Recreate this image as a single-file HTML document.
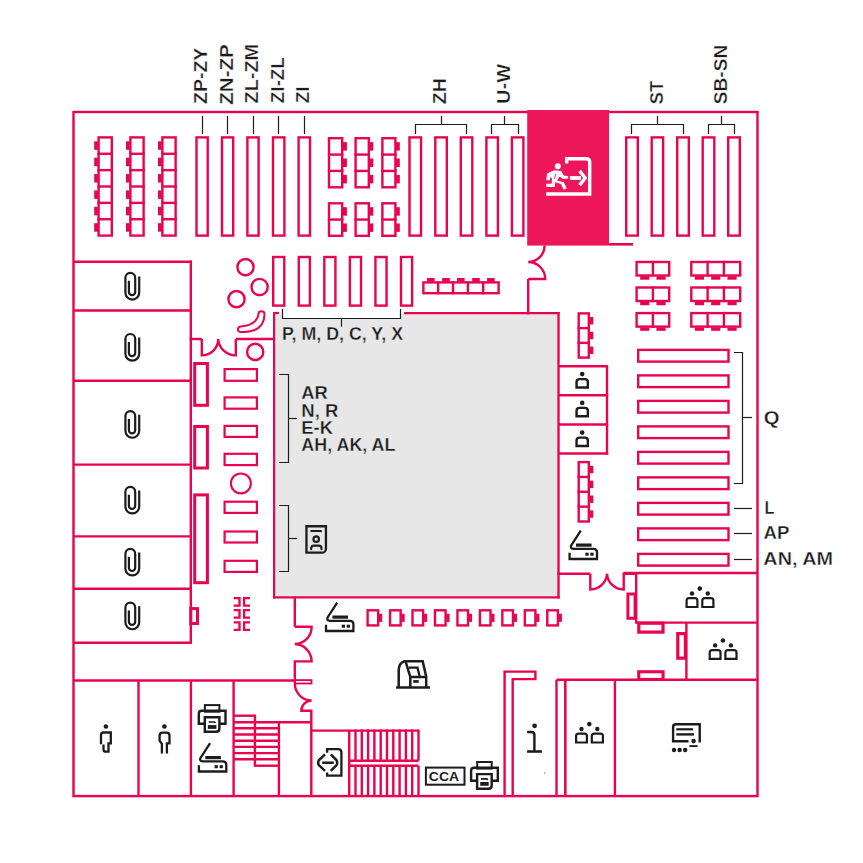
<!DOCTYPE html>
<html><head><meta charset="utf-8"><style>
html,body{margin:0;padding:0;background:#fff;}
svg{display:block;}
text{font-family:"Liberation Sans",sans-serif;font-weight:bold;}
</style></head><body>
<svg width="863" height="863" viewBox="0 0 863 863">
<rect x="275" y="314" width="282.5" height="282" fill="#e7e7e7"/>
<rect x="73.5" y="112" width="684" height="684.1" stroke="#e8034f" stroke-width="2.4" fill="none"/>
<rect x="527.2" y="110" width="81.8" height="135.6" fill="#ee165b"/>
<line x1="609" y1="244.3" x2="633" y2="244.3" stroke="#e8034f" stroke-width="2.6"/>
<rect x="98.6" y="137.4" width="13.2" height="98.2" stroke="#e8034f" stroke-width="2.4" fill="none"/>
<line x1="97.4" y1="153.77" x2="113" y2="153.77" stroke="#e8034f" stroke-width="2.4"/>
<line x1="97.4" y1="170.13" x2="113" y2="170.13" stroke="#e8034f" stroke-width="2.4"/>
<line x1="97.4" y1="186.5" x2="113" y2="186.5" stroke="#e8034f" stroke-width="2.4"/>
<line x1="97.4" y1="202.87" x2="113" y2="202.87" stroke="#e8034f" stroke-width="2.4"/>
<line x1="97.4" y1="219.23" x2="113" y2="219.23" stroke="#e8034f" stroke-width="2.4"/>
<rect x="94.2" y="141.33" width="3.7" height="8.5" fill="#e8034f"/>
<rect x="94.2" y="157.7" width="3.7" height="8.5" fill="#e8034f"/>
<rect x="94.2" y="174.07" width="3.7" height="8.5" fill="#e8034f"/>
<rect x="94.2" y="190.43" width="3.7" height="8.5" fill="#e8034f"/>
<rect x="94.2" y="206.8" width="3.7" height="8.5" fill="#e8034f"/>
<rect x="94.2" y="223.17" width="3.7" height="8.5" fill="#e8034f"/>
<rect x="130.4" y="137.4" width="13.2" height="98.2" stroke="#e8034f" stroke-width="2.4" fill="none"/>
<line x1="129.2" y1="153.77" x2="144.8" y2="153.77" stroke="#e8034f" stroke-width="2.4"/>
<line x1="129.2" y1="170.13" x2="144.8" y2="170.13" stroke="#e8034f" stroke-width="2.4"/>
<line x1="129.2" y1="186.5" x2="144.8" y2="186.5" stroke="#e8034f" stroke-width="2.4"/>
<line x1="129.2" y1="202.87" x2="144.8" y2="202.87" stroke="#e8034f" stroke-width="2.4"/>
<line x1="129.2" y1="219.23" x2="144.8" y2="219.23" stroke="#e8034f" stroke-width="2.4"/>
<rect x="126" y="141.33" width="3.7" height="8.5" fill="#e8034f"/>
<rect x="126" y="157.7" width="3.7" height="8.5" fill="#e8034f"/>
<rect x="126" y="174.07" width="3.7" height="8.5" fill="#e8034f"/>
<rect x="126" y="190.43" width="3.7" height="8.5" fill="#e8034f"/>
<rect x="126" y="206.8" width="3.7" height="8.5" fill="#e8034f"/>
<rect x="126" y="223.17" width="3.7" height="8.5" fill="#e8034f"/>
<rect x="162.4" y="137.4" width="13.2" height="98.2" stroke="#e8034f" stroke-width="2.4" fill="none"/>
<line x1="161.2" y1="153.77" x2="176.8" y2="153.77" stroke="#e8034f" stroke-width="2.4"/>
<line x1="161.2" y1="170.13" x2="176.8" y2="170.13" stroke="#e8034f" stroke-width="2.4"/>
<line x1="161.2" y1="186.5" x2="176.8" y2="186.5" stroke="#e8034f" stroke-width="2.4"/>
<line x1="161.2" y1="202.87" x2="176.8" y2="202.87" stroke="#e8034f" stroke-width="2.4"/>
<line x1="161.2" y1="219.23" x2="176.8" y2="219.23" stroke="#e8034f" stroke-width="2.4"/>
<rect x="158" y="141.33" width="3.7" height="8.5" fill="#e8034f"/>
<rect x="158" y="157.7" width="3.7" height="8.5" fill="#e8034f"/>
<rect x="158" y="174.07" width="3.7" height="8.5" fill="#e8034f"/>
<rect x="158" y="190.43" width="3.7" height="8.5" fill="#e8034f"/>
<rect x="158" y="206.8" width="3.7" height="8.5" fill="#e8034f"/>
<rect x="158" y="223.17" width="3.7" height="8.5" fill="#e8034f"/>
<rect x="196.5" y="137.4" width="11.2" height="98.2" stroke="#e8034f" stroke-width="2.4" fill="none"/>
<rect x="222" y="137.4" width="11.2" height="98.2" stroke="#e8034f" stroke-width="2.4" fill="none"/>
<rect x="247.4" y="137.4" width="11.2" height="98.2" stroke="#e8034f" stroke-width="2.4" fill="none"/>
<rect x="273" y="137.4" width="11.4" height="98.2" stroke="#e8034f" stroke-width="2.4" fill="none"/>
<rect x="298.6" y="137.4" width="11.4" height="98.2" stroke="#e8034f" stroke-width="2.4" fill="none"/>
<rect x="409.5" y="137.4" width="11.5" height="98.2" stroke="#e8034f" stroke-width="2.4" fill="none"/>
<rect x="435.3" y="137.4" width="11.5" height="98.2" stroke="#e8034f" stroke-width="2.4" fill="none"/>
<rect x="460.8" y="137.4" width="11.5" height="98.2" stroke="#e8034f" stroke-width="2.4" fill="none"/>
<rect x="486.4" y="137.4" width="11.5" height="98.2" stroke="#e8034f" stroke-width="2.4" fill="none"/>
<rect x="511.9" y="137.4" width="11.5" height="98.2" stroke="#e8034f" stroke-width="2.4" fill="none"/>
<rect x="626.2" y="137.4" width="11.6" height="98.2" stroke="#e8034f" stroke-width="2.4" fill="none"/>
<rect x="651.7" y="137.4" width="11.4" height="98.2" stroke="#e8034f" stroke-width="2.4" fill="none"/>
<rect x="677.2" y="137.4" width="11.6" height="98.2" stroke="#e8034f" stroke-width="2.4" fill="none"/>
<rect x="702.7" y="137.4" width="11.6" height="98.2" stroke="#e8034f" stroke-width="2.4" fill="none"/>
<rect x="728.2" y="137.4" width="11.6" height="98.2" stroke="#e8034f" stroke-width="2.4" fill="none"/>
<rect x="329" y="138.2" width="13.2" height="49.1" stroke="#e8034f" stroke-width="2.4" fill="none"/>
<line x1="327.8" y1="154.57" x2="343.4" y2="154.57" stroke="#e8034f" stroke-width="2.4"/>
<line x1="327.8" y1="170.93" x2="343.4" y2="170.93" stroke="#e8034f" stroke-width="2.4"/>
<rect x="342.9" y="142.13" width="4" height="8.5" fill="#e8034f"/>
<rect x="342.9" y="158.5" width="4" height="8.5" fill="#e8034f"/>
<rect x="342.9" y="174.87" width="4" height="8.5" fill="#e8034f"/>
<rect x="329" y="203.3" width="13.2" height="32.5" stroke="#e8034f" stroke-width="2.4" fill="none"/>
<line x1="327.8" y1="219.55" x2="343.4" y2="219.55" stroke="#e8034f" stroke-width="2.4"/>
<rect x="342.9" y="207.17" width="4" height="8.5" fill="#e8034f"/>
<rect x="342.9" y="223.42" width="4" height="8.5" fill="#e8034f"/>
<rect x="355.6" y="138.2" width="13.2" height="49.1" stroke="#e8034f" stroke-width="2.4" fill="none"/>
<line x1="354.4" y1="154.57" x2="370" y2="154.57" stroke="#e8034f" stroke-width="2.4"/>
<line x1="354.4" y1="170.93" x2="370" y2="170.93" stroke="#e8034f" stroke-width="2.4"/>
<rect x="369.5" y="142.13" width="3.8" height="8.5" fill="#e8034f"/>
<rect x="369.5" y="158.5" width="3.8" height="8.5" fill="#e8034f"/>
<rect x="369.5" y="174.87" width="3.8" height="8.5" fill="#e8034f"/>
<rect x="355.6" y="203.3" width="13.2" height="32.5" stroke="#e8034f" stroke-width="2.4" fill="none"/>
<line x1="354.4" y1="219.55" x2="370" y2="219.55" stroke="#e8034f" stroke-width="2.4"/>
<rect x="369.5" y="207.17" width="3.8" height="8.5" fill="#e8034f"/>
<rect x="369.5" y="223.42" width="3.8" height="8.5" fill="#e8034f"/>
<rect x="382.4" y="138.2" width="13" height="49.1" stroke="#e8034f" stroke-width="2.4" fill="none"/>
<line x1="381.2" y1="154.57" x2="396.6" y2="154.57" stroke="#e8034f" stroke-width="2.4"/>
<line x1="381.2" y1="170.93" x2="396.6" y2="170.93" stroke="#e8034f" stroke-width="2.4"/>
<rect x="396.1" y="142.13" width="3.7" height="8.5" fill="#e8034f"/>
<rect x="396.1" y="158.5" width="3.7" height="8.5" fill="#e8034f"/>
<rect x="396.1" y="174.87" width="3.7" height="8.5" fill="#e8034f"/>
<rect x="382.4" y="203.3" width="13" height="32.5" stroke="#e8034f" stroke-width="2.4" fill="none"/>
<line x1="381.2" y1="219.55" x2="396.6" y2="219.55" stroke="#e8034f" stroke-width="2.4"/>
<rect x="396.1" y="207.17" width="3.7" height="8.5" fill="#e8034f"/>
<rect x="396.1" y="223.42" width="3.7" height="8.5" fill="#e8034f"/>
<line x1="202.5" y1="116" x2="202.5" y2="134" stroke="#1c1c1c" stroke-width="1.2"/>
<line x1="227.5" y1="116" x2="227.5" y2="134" stroke="#1c1c1c" stroke-width="1.2"/>
<line x1="253.5" y1="116" x2="253.5" y2="134" stroke="#1c1c1c" stroke-width="1.2"/>
<line x1="278.5" y1="116" x2="278.5" y2="134" stroke="#1c1c1c" stroke-width="1.2"/>
<line x1="304.5" y1="116" x2="304.5" y2="134" stroke="#1c1c1c" stroke-width="1.2"/>
<path d="M415.5 134 L415.5 124.5 L466.5 124.5 L466.5 134" stroke="#1c1c1c" stroke-width="1.2" fill="none" />
<line x1="441.5" y1="116" x2="441.5" y2="124.5" stroke="#1c1c1c" stroke-width="1.2"/>
<path d="M491.5 134 L491.5 124.5 L518.5 124.5 L518.5 134" stroke="#1c1c1c" stroke-width="1.2" fill="none" />
<line x1="504.5" y1="116" x2="504.5" y2="124.5" stroke="#1c1c1c" stroke-width="1.2"/>
<path d="M631.5 134 L631.5 124.5 L683.5 124.5 L683.5 134" stroke="#1c1c1c" stroke-width="1.2" fill="none" />
<line x1="657.5" y1="116" x2="657.5" y2="124.5" stroke="#1c1c1c" stroke-width="1.2"/>
<path d="M708.5 134 L708.5 124.5 L734.5 124.5 L734.5 134" stroke="#1c1c1c" stroke-width="1.2" fill="none" />
<line x1="721.5" y1="116" x2="721.5" y2="124.5" stroke="#1c1c1c" stroke-width="1.2"/>
<line x1="190.8" y1="260.6" x2="190.8" y2="643.8" stroke="#e8034f" stroke-width="2.4"/>
<line x1="73" y1="261.7" x2="191.9" y2="261.7" stroke="#e8034f" stroke-width="2.4"/>
<line x1="73" y1="310.5" x2="191.9" y2="310.5" stroke="#e8034f" stroke-width="2.4"/>
<line x1="73" y1="380.7" x2="191.9" y2="380.7" stroke="#e8034f" stroke-width="2.4"/>
<line x1="73" y1="464.6" x2="191.9" y2="464.6" stroke="#e8034f" stroke-width="2.4"/>
<line x1="73" y1="536.4" x2="191.9" y2="536.4" stroke="#e8034f" stroke-width="2.4"/>
<line x1="73" y1="588.7" x2="191.9" y2="588.7" stroke="#e8034f" stroke-width="2.4"/>
<line x1="73" y1="642.7" x2="191.9" y2="642.7" stroke="#e8034f" stroke-width="2.4"/>
<line x1="189.7" y1="339" x2="201.8" y2="339" stroke="#e8034f" stroke-width="2.4"/>
<line x1="235.8" y1="339" x2="273.4" y2="339" stroke="#e8034f" stroke-width="2.4"/>
<path d="M201.8 339 L201.8 355.4 A16.4 16.4 0 0 0 218.2 339 M235.8 339 L235.8 355.4 A17.6 17.6 0 0 1 218.2 339" stroke="#e8034f" stroke-width="2.4" fill="none" />
<circle cx="245.5" cy="267.1" r="8.1" stroke="#e8034f" stroke-width="2.4" fill="none"/>
<circle cx="259.6" cy="287" r="8.1" stroke="#e8034f" stroke-width="2.4" fill="none"/>
<circle cx="236.5" cy="299.1" r="8.1" stroke="#e8034f" stroke-width="2.4" fill="none"/>
<circle cx="255.2" cy="351.9" r="8.1" stroke="#e8034f" stroke-width="2.4" fill="none"/>
<circle cx="240.9" cy="483.4" r="9.95" stroke="#e8034f" stroke-width="2.1" fill="none"/>
<path d="M240.6 326.6 C245.5 326.1 252 324.5 255.3 320.8 C257.6 318.1 258.4 315.8 258.4 314.2 A3.05 3.05 0 0 1 264.5 314.2 C264.5 321.5 261.5 327.3 254 330.3 C250 331.7 245 332.1 240.7 332.1 A2.75 2.75 0 0 1 240.6 326.6 Z" stroke="#e8034f" stroke-width="2.0" fill="none" />
<rect x="194.7" y="363.5" width="12.7" height="41.8" stroke="#e8034f" stroke-width="3.0" fill="none"/>
<rect x="194.7" y="426.5" width="12.7" height="41.5" stroke="#e8034f" stroke-width="3.0" fill="none"/>
<rect x="194.7" y="494.9" width="12.7" height="87.8" stroke="#e8034f" stroke-width="3.0" fill="none"/>
<rect x="224.6" y="369.1" width="32.3" height="11.7" stroke="#e8034f" stroke-width="2.2" fill="none"/>
<rect x="224.6" y="397.4" width="32.3" height="11.3" stroke="#e8034f" stroke-width="2.2" fill="none"/>
<rect x="224.6" y="425.9" width="32.3" height="11" stroke="#e8034f" stroke-width="2.2" fill="none"/>
<rect x="224.6" y="453.8" width="32.3" height="11.3" stroke="#e8034f" stroke-width="2.2" fill="none"/>
<rect x="224.6" y="501.7" width="32.3" height="11.2" stroke="#e8034f" stroke-width="2.2" fill="none"/>
<rect x="224.6" y="531.5" width="32.3" height="11" stroke="#e8034f" stroke-width="2.2" fill="none"/>
<rect x="224.6" y="560.8" width="32.3" height="11.1" stroke="#e8034f" stroke-width="2.2" fill="none"/>
<rect x="190.8" y="608.6" width="6.7" height="14.9" stroke="#e8034f" stroke-width="3.0" fill="none"/>
<path d="M233.7 598.1 L239.5 598.1 L239.5 605.6 L233.7 605.6" stroke="#e8034f" stroke-width="2.3" fill="none" />
<path d="M250 598.1 L244.1 598.1 L244.1 605.6 L250 605.6" stroke="#e8034f" stroke-width="2.3" fill="none" />
<path d="M233.7 610.2 L239.5 610.2 L239.5 617.7 L233.7 617.7" stroke="#e8034f" stroke-width="2.3" fill="none" />
<path d="M250 610.2 L244.1 610.2 L244.1 617.7 L250 617.7" stroke="#e8034f" stroke-width="2.3" fill="none" />
<path d="M233.7 622.3 L239.5 622.3 L239.5 629.8 L233.7 629.8" stroke="#e8034f" stroke-width="2.3" fill="none" />
<path d="M250 622.3 L244.1 622.3 L244.1 629.8 L250 629.8" stroke="#e8034f" stroke-width="2.3" fill="none" />
<line x1="274.1" y1="312" x2="274.1" y2="598.6" stroke="#e8034f" stroke-width="2.2"/>
<line x1="558.5" y1="312" x2="558.5" y2="598.6" stroke="#e8034f" stroke-width="2.4"/>
<line x1="273" y1="597.4" x2="559.7" y2="597.4" stroke="#e8034f" stroke-width="2.4"/>
<line x1="273" y1="313" x2="279" y2="313" stroke="#e8034f" stroke-width="2.2"/>
<line x1="404" y1="313.2" x2="559.7" y2="313.2" stroke="#e8034f" stroke-width="2.2"/>
<rect x="281.8" y="308.5" width="119.5" height="9.7" fill="#fff"/>
<path d="M282.5 309 L282.5 318.5 L400.5 318.5 L400.5 309" stroke="#1c1c1c" stroke-width="1.2" fill="none" />
<line x1="341.5" y1="318.5" x2="341.5" y2="326.6" stroke="#1c1c1c" stroke-width="1.2"/>
<rect x="273.2" y="257" width="11.1" height="48.6" stroke="#e8034f" stroke-width="2.4" fill="none"/>
<rect x="298.76" y="257" width="11.1" height="48.6" stroke="#e8034f" stroke-width="2.4" fill="none"/>
<rect x="324.32" y="257" width="11.1" height="48.6" stroke="#e8034f" stroke-width="2.4" fill="none"/>
<rect x="349.88" y="257" width="11.1" height="48.6" stroke="#e8034f" stroke-width="2.4" fill="none"/>
<rect x="375.44" y="257" width="11.1" height="48.6" stroke="#e8034f" stroke-width="2.4" fill="none"/>
<rect x="401" y="257" width="11.1" height="48.6" stroke="#e8034f" stroke-width="2.4" fill="none"/>
<path d="M279 374.5 L288.5 374.5 L288.5 462.5 L279 462.5" stroke="#1c1c1c" stroke-width="1.2" fill="none" />
<line x1="288.5" y1="418.5" x2="297" y2="418.5" stroke="#1c1c1c" stroke-width="1.2"/>
<path d="M279 505.5 L288.5 505.5 L288.5 571.5 L279 571.5" stroke="#1c1c1c" stroke-width="1.2" fill="none" />
<line x1="288.5" y1="538.5" x2="297.2" y2="538.5" stroke="#1c1c1c" stroke-width="1.2"/>
<path d="M306.45 526.25 H325.95 V548.65 A4 4 0 0 1 321.95 552.65 H306.45 Z" stroke="#1c1c1c" stroke-width="2.3" fill="none" />
<path d="M310.4 531 H320.6 L321.8 531.6" stroke="#1c1c1c" stroke-width="1.9" fill="none" />
<circle cx="316.2" cy="539.2" r="2.75" stroke="#1c1c1c" stroke-width="2.2" fill="none"/>
<path d="M311.2 549.3 V548.3 Q311.2 545.6 313.9 545.6 H318.8 Q321.5 545.6 321.5 548.3 V549.3" stroke="#1c1c1c" stroke-width="2.1" fill="none" stroke-linecap="round"/>
<rect x="423.4" y="282.4" width="75.2" height="10.8" stroke="#e8034f" stroke-width="2.4" fill="none"/>
<line x1="438.1" y1="281.2" x2="438.1" y2="294.4" stroke="#e8034f" stroke-width="2.4"/>
<line x1="453" y1="281.2" x2="453" y2="294.4" stroke="#e8034f" stroke-width="2.4"/>
<line x1="467.9" y1="281.2" x2="467.9" y2="294.4" stroke="#e8034f" stroke-width="2.4"/>
<line x1="483.2" y1="281.2" x2="483.2" y2="294.4" stroke="#e8034f" stroke-width="2.4"/>
<rect x="427" y="278" width="7.6" height="3.8" fill="#e8034f"/>
<rect x="442.2" y="278" width="7.6" height="3.8" fill="#e8034f"/>
<rect x="457" y="278" width="7.6" height="3.8" fill="#e8034f"/>
<rect x="472.2" y="278" width="7.6" height="3.8" fill="#e8034f"/>
<rect x="487.1" y="278" width="7.6" height="3.8" fill="#e8034f"/>
<line x1="528.2" y1="279" x2="528.2" y2="314.3" stroke="#e8034f" stroke-width="2.4"/>
<path d="M544.6 245.5 A16.5 16.5 0 0 1 528.2 262 A17 17 0 0 1 545.2 279 H528.2" stroke="#e8034f" stroke-width="2.4" fill="none" />
<rect x="578.7" y="313.4" width="10.1" height="44.2" stroke="#e8034f" stroke-width="2.4" fill="none"/>
<line x1="577.5" y1="328.13" x2="590" y2="328.13" stroke="#e8034f" stroke-width="2.4"/>
<line x1="577.5" y1="342.87" x2="590" y2="342.87" stroke="#e8034f" stroke-width="2.4"/>
<rect x="589.5" y="317.07" width="3.8" height="7.4" fill="#e8034f"/>
<rect x="589.5" y="331.8" width="3.8" height="7.4" fill="#e8034f"/>
<rect x="589.5" y="346.53" width="3.8" height="7.4" fill="#e8034f"/>
<rect x="578.7" y="462.1" width="10.1" height="59.4" stroke="#e8034f" stroke-width="2.4" fill="none"/>
<line x1="577.5" y1="476.95" x2="590" y2="476.95" stroke="#e8034f" stroke-width="2.4"/>
<line x1="577.5" y1="491.8" x2="590" y2="491.8" stroke="#e8034f" stroke-width="2.4"/>
<line x1="577.5" y1="506.65" x2="590" y2="506.65" stroke="#e8034f" stroke-width="2.4"/>
<rect x="589.5" y="465.82" width="3.8" height="7.4" fill="#e8034f"/>
<rect x="589.5" y="480.68" width="3.8" height="7.4" fill="#e8034f"/>
<rect x="589.5" y="495.53" width="3.8" height="7.4" fill="#e8034f"/>
<rect x="589.5" y="510.38" width="3.8" height="7.4" fill="#e8034f"/>
<line x1="558.5" y1="366.2" x2="607" y2="366.2" stroke="#e8034f" stroke-width="2.4"/>
<line x1="558.5" y1="395.2" x2="608.2" y2="395.2" stroke="#e8034f" stroke-width="2.4"/>
<line x1="558.5" y1="424.5" x2="608.2" y2="424.5" stroke="#e8034f" stroke-width="2.4"/>
<line x1="558.5" y1="453.5" x2="608.2" y2="453.5" stroke="#e8034f" stroke-width="2.4"/>
<line x1="607" y1="365.1" x2="607" y2="454.7" stroke="#e8034f" stroke-width="2.4"/>
<circle cx="582.2" cy="374.1" r="2.3" fill="#1c1c1c"/>
<path d="M576.55 387.5 V382.1 Q576.55 379.1 579.55 379.1 H584.85 Q587.85 379.1 587.85 382.1 V387.5 Z" stroke="#1c1c1c" stroke-width="2.4" fill="none" />
<circle cx="582.2" cy="402.9" r="2.3" fill="#1c1c1c"/>
<path d="M576.55 416.3 V410.9 Q576.55 407.9 579.55 407.9 H584.85 Q587.85 407.9 587.85 410.9 V416.3 Z" stroke="#1c1c1c" stroke-width="2.4" fill="none" />
<circle cx="582.2" cy="432.6" r="2.3" fill="#1c1c1c"/>
<path d="M576.55 446 V440.6 Q576.55 437.6 579.55 437.6 H584.85 Q587.85 437.6 587.85 440.6 V446 Z" stroke="#1c1c1c" stroke-width="2.4" fill="none" />
<path d="M580.8 530.6 L571.2 545.5 Q569.9 548.8 573.4 548.8 H593.5 Q597 548.8 597 552.3 V559 H569.6 V552.7" stroke="#1c1c1c" stroke-width="2.3" fill="none" stroke-linecap="butt"/>
<rect x="576" y="543.5" width="15.6" height="3.2" fill="#1c1c1c"/>
<rect x="585.3" y="552.7" width="3.3" height="3" fill="#1c1c1c"/>
<rect x="590.3" y="552.7" width="3.3" height="3" fill="#1c1c1c"/>
<path d="M337.2 602.6 L327.6 617.5 Q326.3 620.8 329.8 620.8 H349.9 Q353.4 620.8 353.4 624.3 V631 H326 V624.7" stroke="#1c1c1c" stroke-width="2.3" fill="none" stroke-linecap="butt"/>
<rect x="332.4" y="615.5" width="15.6" height="3.2" fill="#1c1c1c"/>
<rect x="341.7" y="624.7" width="3.3" height="3" fill="#1c1c1c"/>
<rect x="346.7" y="624.7" width="3.3" height="3" fill="#1c1c1c"/>
<path d="M210.1 743.1 L200.5 758 Q199.2 761.3 202.7 761.3 H222.8 Q226.3 761.3 226.3 764.8 V771.5 H198.9 V765.2" stroke="#1c1c1c" stroke-width="2.3" fill="none" stroke-linecap="butt"/>
<rect x="205.3" y="756" width="15.6" height="3.2" fill="#1c1c1c"/>
<rect x="214.6" y="765.2" width="3.3" height="3" fill="#1c1c1c"/>
<rect x="219.6" y="765.2" width="3.3" height="3" fill="#1c1c1c"/>
<rect x="367.6" y="610.3" width="10.6" height="15.1" stroke="#e8034f" stroke-width="2.4" fill="none"/>
<rect x="378.9" y="613.8" width="3.3" height="8.1" fill="#e8034f"/>
<rect x="390.06" y="610.3" width="10.6" height="15.1" stroke="#e8034f" stroke-width="2.4" fill="none"/>
<rect x="401.36" y="613.8" width="3.3" height="8.1" fill="#e8034f"/>
<rect x="412.52" y="610.3" width="10.6" height="15.1" stroke="#e8034f" stroke-width="2.4" fill="none"/>
<rect x="423.82" y="613.8" width="3.3" height="8.1" fill="#e8034f"/>
<rect x="434.98" y="610.3" width="10.6" height="15.1" stroke="#e8034f" stroke-width="2.4" fill="none"/>
<rect x="446.28" y="613.8" width="3.3" height="8.1" fill="#e8034f"/>
<rect x="457.44" y="610.3" width="10.6" height="15.1" stroke="#e8034f" stroke-width="2.4" fill="none"/>
<rect x="468.74" y="613.8" width="3.3" height="8.1" fill="#e8034f"/>
<rect x="479.9" y="610.3" width="10.6" height="15.1" stroke="#e8034f" stroke-width="2.4" fill="none"/>
<rect x="491.2" y="613.8" width="3.3" height="8.1" fill="#e8034f"/>
<rect x="502.36" y="610.3" width="10.6" height="15.1" stroke="#e8034f" stroke-width="2.4" fill="none"/>
<rect x="513.66" y="613.8" width="3.3" height="8.1" fill="#e8034f"/>
<rect x="524.82" y="610.3" width="10.6" height="15.1" stroke="#e8034f" stroke-width="2.4" fill="none"/>
<rect x="536.12" y="613.8" width="3.3" height="8.1" fill="#e8034f"/>
<rect x="547.28" y="610.3" width="10.6" height="15.1" stroke="#e8034f" stroke-width="2.4" fill="none"/>
<rect x="558.58" y="613.8" width="3.3" height="8.1" fill="#e8034f"/>
<line x1="294.8" y1="596.5" x2="294.8" y2="626.8" stroke="#e8034f" stroke-width="2.4"/>
<path d="M294.8 626.8 H311.6 A16.8 16.8 0 0 1 294.8 644 A17.4 17.4 0 0 1 311.6 661.4 H294.8 V683" stroke="#e8034f" stroke-width="2.4" fill="none" />
<line x1="73" y1="680.5" x2="294.8" y2="680.5" stroke="#e8034f" stroke-width="2.4"/>
<rect x="294.9" y="680.1" width="16.6" height="3.4" stroke="#e8034f" stroke-width="1.8" fill="none"/>
<path d="M294.8 683.5 A16.9 16.9 0 0 0 311.6 700.5 A10.2 10.2 0 0 0 301.4 710.7 H311.3 V796" stroke="#e8034f" stroke-width="2.4" fill="none" />
<line x1="138.5" y1="680.5" x2="138.5" y2="796" stroke="#e8034f" stroke-width="2.4"/>
<line x1="190.9" y1="680.5" x2="190.9" y2="796" stroke="#e8034f" stroke-width="2.4"/>
<line x1="233.6" y1="680.5" x2="233.6" y2="796" stroke="#e8034f" stroke-width="2.4"/>
<line x1="233.6" y1="715.7" x2="254.9" y2="715.7" stroke="#e8034f" stroke-width="2.4"/>
<line x1="254.9" y1="714.6" x2="254.9" y2="766.8" stroke="#e8034f" stroke-width="2.4"/>
<line x1="233.6" y1="722.2" x2="278.9" y2="722.2" stroke="#e8034f" stroke-width="2.4"/>
<line x1="233.6" y1="728.3" x2="278.9" y2="728.3" stroke="#e8034f" stroke-width="2.4"/>
<line x1="233.6" y1="734.5" x2="278.9" y2="734.5" stroke="#e8034f" stroke-width="2.4"/>
<line x1="233.6" y1="740.7" x2="278.9" y2="740.7" stroke="#e8034f" stroke-width="2.4"/>
<line x1="233.6" y1="746.9" x2="278.9" y2="746.9" stroke="#e8034f" stroke-width="2.4"/>
<line x1="233.6" y1="753.1" x2="278.9" y2="753.1" stroke="#e8034f" stroke-width="2.4"/>
<line x1="233.6" y1="759.2" x2="278.9" y2="759.2" stroke="#e8034f" stroke-width="2.4"/>
<line x1="254.9" y1="765.7" x2="278.9" y2="765.7" stroke="#e8034f" stroke-width="2.4"/>
<line x1="278.9" y1="721.1" x2="278.9" y2="796" stroke="#e8034f" stroke-width="2.4"/>
<line x1="278.9" y1="722.2" x2="311.3" y2="722.2" stroke="#e8034f" stroke-width="2.4"/>
<line x1="310.3" y1="730.6" x2="418.5" y2="730.6" stroke="#e8034f" stroke-width="2.4"/>
<line x1="349.2" y1="730.6" x2="349.2" y2="796" stroke="#e8034f" stroke-width="2.4"/>
<line x1="349.2" y1="760.7" x2="418.5" y2="760.7" stroke="#e8034f" stroke-width="2.4"/>
<line x1="349.2" y1="765.8" x2="418.5" y2="765.8" stroke="#e8034f" stroke-width="2.4"/>
<line x1="355.5" y1="729.5" x2="355.5" y2="760.7" stroke="#e8034f" stroke-width="2.4"/>
<line x1="355.5" y1="765.8" x2="355.5" y2="796" stroke="#e8034f" stroke-width="2.4"/>
<line x1="361.8" y1="729.5" x2="361.8" y2="760.7" stroke="#e8034f" stroke-width="2.4"/>
<line x1="361.8" y1="765.8" x2="361.8" y2="796" stroke="#e8034f" stroke-width="2.4"/>
<line x1="368.1" y1="729.5" x2="368.1" y2="760.7" stroke="#e8034f" stroke-width="2.4"/>
<line x1="368.1" y1="765.8" x2="368.1" y2="796" stroke="#e8034f" stroke-width="2.4"/>
<line x1="374.4" y1="729.5" x2="374.4" y2="760.7" stroke="#e8034f" stroke-width="2.4"/>
<line x1="374.4" y1="765.8" x2="374.4" y2="796" stroke="#e8034f" stroke-width="2.4"/>
<line x1="380.7" y1="729.5" x2="380.7" y2="760.7" stroke="#e8034f" stroke-width="2.4"/>
<line x1="380.7" y1="765.8" x2="380.7" y2="796" stroke="#e8034f" stroke-width="2.4"/>
<line x1="387" y1="729.5" x2="387" y2="760.7" stroke="#e8034f" stroke-width="2.4"/>
<line x1="387" y1="765.8" x2="387" y2="796" stroke="#e8034f" stroke-width="2.4"/>
<line x1="393.3" y1="729.5" x2="393.3" y2="760.7" stroke="#e8034f" stroke-width="2.4"/>
<line x1="393.3" y1="765.8" x2="393.3" y2="796" stroke="#e8034f" stroke-width="2.4"/>
<line x1="399.6" y1="729.5" x2="399.6" y2="760.7" stroke="#e8034f" stroke-width="2.4"/>
<line x1="399.6" y1="765.8" x2="399.6" y2="796" stroke="#e8034f" stroke-width="2.4"/>
<line x1="405.9" y1="729.5" x2="405.9" y2="760.7" stroke="#e8034f" stroke-width="2.4"/>
<line x1="405.9" y1="765.8" x2="405.9" y2="796" stroke="#e8034f" stroke-width="2.4"/>
<line x1="412.2" y1="729.5" x2="412.2" y2="760.7" stroke="#e8034f" stroke-width="2.4"/>
<line x1="412.2" y1="765.8" x2="412.2" y2="796" stroke="#e8034f" stroke-width="2.4"/>
<line x1="418.5" y1="729.5" x2="418.5" y2="760.7" stroke="#e8034f" stroke-width="2.4"/>
<line x1="418.5" y1="765.8" x2="418.5" y2="796" stroke="#e8034f" stroke-width="2.4"/>
<path d="M504.6 796 V671.6 H535.4 V679.1 H512.7 V796" stroke="#e8034f" stroke-width="2.4" fill="none" />
<line x1="556.5" y1="679.8" x2="757.5" y2="679.8" stroke="#e8034f" stroke-width="2.4"/>
<line x1="556.5" y1="679.8" x2="556.5" y2="796" stroke="#e8034f" stroke-width="2.4"/>
<line x1="565.3" y1="679.8" x2="565.3" y2="796" stroke="#e8034f" stroke-width="2.6"/>
<line x1="614.9" y1="679.8" x2="614.9" y2="796" stroke="#e8034f" stroke-width="2.4"/>
<rect x="638.75" y="671.75" width="24.3" height="7.7" stroke="#e8034f" stroke-width="3.1" fill="none"/>
<line x1="686.4" y1="622.6" x2="686.4" y2="680.8" stroke="#e8034f" stroke-width="2.4"/>
<rect x="677.8" y="633.6" width="7.6" height="24.6" stroke="#e8034f" stroke-width="3.2" fill="none"/>
<rect x="638.8" y="623.2" width="24.2" height="8.9" stroke="#e8034f" stroke-width="3.2" fill="none"/>
<line x1="557.4" y1="573.7" x2="590.3" y2="573.7" stroke="#e8034f" stroke-width="2.4"/>
<path d="M590.3 573.7 V589.5 A16.7 16.7 0 0 0 607 573.7 A16.7 16.7 0 0 0 623.7 589.5 V573.7 H636.2" stroke="#e8034f" stroke-width="2.4" fill="none" />
<line x1="623.7" y1="573" x2="757.5" y2="573" stroke="#e8034f" stroke-width="2.4"/>
<line x1="636.2" y1="572" x2="636.2" y2="623.7" stroke="#e8034f" stroke-width="2.4"/>
<line x1="636.2" y1="622.6" x2="757.5" y2="622.6" stroke="#e8034f" stroke-width="2.4"/>
<rect x="627.9" y="594" width="7.2" height="24.3" stroke="#e8034f" stroke-width="3.0" fill="none"/>
<rect x="636.6" y="262" width="32.6" height="13.5" stroke="#e8034f" stroke-width="2.4" fill="none"/>
<line x1="652.9" y1="260.8" x2="652.9" y2="276.7" stroke="#e8034f" stroke-width="2.4"/>
<rect x="640.15" y="276.3" width="9.2" height="3.4" fill="#e8034f"/>
<rect x="656.45" y="276.3" width="9.2" height="3.4" fill="#e8034f"/>
<rect x="691.3" y="262" width="48.9" height="13.5" stroke="#e8034f" stroke-width="2.4" fill="none"/>
<line x1="707.6" y1="260.8" x2="707.6" y2="276.7" stroke="#e8034f" stroke-width="2.4"/>
<line x1="723.9" y1="260.8" x2="723.9" y2="276.7" stroke="#e8034f" stroke-width="2.4"/>
<rect x="694.85" y="276.3" width="9.2" height="3.4" fill="#e8034f"/>
<rect x="711.15" y="276.3" width="9.2" height="3.4" fill="#e8034f"/>
<rect x="727.45" y="276.3" width="9.2" height="3.4" fill="#e8034f"/>
<rect x="636.6" y="287.5" width="32.6" height="13.5" stroke="#e8034f" stroke-width="2.4" fill="none"/>
<line x1="652.9" y1="286.3" x2="652.9" y2="302.2" stroke="#e8034f" stroke-width="2.4"/>
<rect x="640.15" y="301.8" width="9.2" height="3.4" fill="#e8034f"/>
<rect x="656.45" y="301.8" width="9.2" height="3.4" fill="#e8034f"/>
<rect x="691.3" y="287.5" width="48.9" height="13.5" stroke="#e8034f" stroke-width="2.4" fill="none"/>
<line x1="707.6" y1="286.3" x2="707.6" y2="302.2" stroke="#e8034f" stroke-width="2.4"/>
<line x1="723.9" y1="286.3" x2="723.9" y2="302.2" stroke="#e8034f" stroke-width="2.4"/>
<rect x="694.85" y="301.8" width="9.2" height="3.4" fill="#e8034f"/>
<rect x="711.15" y="301.8" width="9.2" height="3.4" fill="#e8034f"/>
<rect x="727.45" y="301.8" width="9.2" height="3.4" fill="#e8034f"/>
<rect x="636.6" y="313.1" width="32.6" height="13.5" stroke="#e8034f" stroke-width="2.4" fill="none"/>
<line x1="652.9" y1="311.9" x2="652.9" y2="327.8" stroke="#e8034f" stroke-width="2.4"/>
<rect x="640.15" y="327.4" width="9.2" height="3.4" fill="#e8034f"/>
<rect x="656.45" y="327.4" width="9.2" height="3.4" fill="#e8034f"/>
<rect x="691.3" y="313.1" width="48.9" height="13.5" stroke="#e8034f" stroke-width="2.4" fill="none"/>
<line x1="707.6" y1="311.9" x2="707.6" y2="327.8" stroke="#e8034f" stroke-width="2.4"/>
<line x1="723.9" y1="311.9" x2="723.9" y2="327.8" stroke="#e8034f" stroke-width="2.4"/>
<rect x="694.85" y="327.4" width="9.2" height="3.4" fill="#e8034f"/>
<rect x="711.15" y="327.4" width="9.2" height="3.4" fill="#e8034f"/>
<rect x="727.45" y="327.4" width="9.2" height="3.4" fill="#e8034f"/>
<rect x="638.2" y="349.9" width="90.3" height="11.7" stroke="#e8034f" stroke-width="2.4" fill="none"/>
<rect x="638.2" y="375.4" width="90.3" height="11.7" stroke="#e8034f" stroke-width="2.4" fill="none"/>
<rect x="638.2" y="400.9" width="90.3" height="11.7" stroke="#e8034f" stroke-width="2.4" fill="none"/>
<rect x="638.2" y="426.4" width="90.3" height="11.7" stroke="#e8034f" stroke-width="2.4" fill="none"/>
<rect x="638.2" y="451.9" width="90.3" height="11.7" stroke="#e8034f" stroke-width="2.4" fill="none"/>
<rect x="638.2" y="477.4" width="90.3" height="11.7" stroke="#e8034f" stroke-width="2.4" fill="none"/>
<rect x="638.2" y="502.9" width="90.3" height="11.7" stroke="#e8034f" stroke-width="2.4" fill="none"/>
<rect x="638.2" y="528.4" width="90.3" height="11.7" stroke="#e8034f" stroke-width="2.4" fill="none"/>
<rect x="638.2" y="553.9" width="90.3" height="11.7" stroke="#e8034f" stroke-width="2.4" fill="none"/>
<path d="M734 352.5 L742.5 352.5 L742.5 483.5 L734 483.5" stroke="#1c1c1c" stroke-width="1.2" fill="none" />
<line x1="742.5" y1="417.5" x2="752.1" y2="417.5" stroke="#1c1c1c" stroke-width="1.2"/>
<line x1="734" y1="508.5" x2="752.1" y2="508.5" stroke="#1c1c1c" stroke-width="1.2"/>
<line x1="734" y1="533.5" x2="752.1" y2="533.5" stroke="#1c1c1c" stroke-width="1.2"/>
<line x1="734" y1="559.5" x2="752.1" y2="559.5" stroke="#1c1c1c" stroke-width="1.2"/>
<circle cx="699.8" cy="588.6" r="2.3" fill="#1c1c1c"/>
<circle cx="692" cy="593.5" r="2.2" fill="#1c1c1c"/>
<circle cx="707.8" cy="593.5" r="2.2" fill="#1c1c1c"/>
<path d="M686.6 607 V600.6 Q686.6 598.2 689 598.2 H695 Q697.4 598.2 697.4 600.6 V607 Z" stroke="#1c1c1c" stroke-width="2.2" fill="none" />
<path d="M702.3 607 V600.6 Q702.3 598.2 704.7 598.2 H711 Q713.4 598.2 713.4 600.6 V607 Z" stroke="#1c1c1c" stroke-width="2.2" fill="none" />
<circle cx="722.9" cy="640.5" r="2.3" fill="#1c1c1c"/>
<circle cx="715.1" cy="645.4" r="2.2" fill="#1c1c1c"/>
<circle cx="730.9" cy="645.4" r="2.2" fill="#1c1c1c"/>
<path d="M709.7 658.9 V652.5 Q709.7 650.1 712.1 650.1 H718.1 Q720.5 650.1 720.5 652.5 V658.9 Z" stroke="#1c1c1c" stroke-width="2.2" fill="none" />
<path d="M725.4 658.9 V652.5 Q725.4 650.1 727.8 650.1 H734.1 Q736.5 650.1 736.5 652.5 V658.9 Z" stroke="#1c1c1c" stroke-width="2.2" fill="none" />
<circle cx="589.3" cy="724.1" r="2.3" fill="#1c1c1c"/>
<circle cx="581.5" cy="729" r="2.2" fill="#1c1c1c"/>
<circle cx="597.3" cy="729" r="2.2" fill="#1c1c1c"/>
<path d="M576.1 742.5 V736.1 Q576.1 733.7 578.5 733.7 H584.5 Q586.9 733.7 586.9 736.1 V742.5 Z" stroke="#1c1c1c" stroke-width="2.2" fill="none" />
<path d="M591.8 742.5 V736.1 Q591.8 733.7 594.2 733.7 H600.5 Q602.9 733.7 602.9 736.1 V742.5 Z" stroke="#1c1c1c" stroke-width="2.2" fill="none" />
<path d="M566.7 163.6 V158.7 H586.2 Q589.7 158.7 589.7 162.2 V194 H546.1" stroke="#fff" stroke-width="3.4" fill="none" />
<line x1="569.9" y1="178" x2="581" y2="178" stroke="#fff" stroke-width="3.8"/>
<path d="M579.6 170.9 L585.2 178 L579.6 185.1" stroke="#fff" stroke-width="3.4" fill="none" />
<circle cx="557.8" cy="166.3" r="3" fill="#fff"/>
<path d="M547.1 173.4 L554.1 170.2 L561.2 171.1 L563.8 175.6 L568.2 176.3 L568.2 178.5 L563 178.9 L559.5 176.5 L557 180.6 L563.8 182.3 L566.7 188.2 L563.8 189.7 L560.8 184.1 L555.3 182.2 L554.7 187.1 L546.2 187.1 L546.2 183.7 L551.6 183.7 L552 179 L550.6 176.5 L549.8 180.3 L546.3 180.3 Z" fill="#fff"/>
<line x1="555.6" y1="174.1" x2="554.6" y2="178.9" stroke="#ee165b" stroke-width="0.9"/>
<circle cx="105.9" cy="726.5" r="2.3" fill="#1c1c1c"/>
<path d="M101 744.2 V735 Q101 732.5 103.5 732.5 H110.8 V743.4 H108.5 V751.7 H105.8 Q103.5 751.7 103.5 749.4 V744.6" stroke="#1c1c1c" stroke-width="2.3" fill="none" />
<circle cx="164.4" cy="726.5" r="2.3" fill="#1c1c1c"/>
<path d="M159.6 741.2 V735.7 Q159.6 732.7 162.6 732.7 H166.5 Q169.5 732.7 169.5 735.7 V743.4 H166.9 V753.4 M159.6 740.8 L161.9 743.8 V753.4" stroke="#1c1c1c" stroke-width="2.3" fill="none" />
<rect x="204.9" y="705.1" width="14.5" height="6.6" stroke="#1c1c1c" stroke-width="2" fill="none"/>
<path d="M204.8 723.8 H198.8 V713.8 Q198.8 710.8 201.8 710.8 H225.5 V723.8 H219.4" stroke="#1c1c1c" stroke-width="2.4" fill="none" />
<path d="M204.8 717.2 H219.4 V728.5 Q219.4 731.8 216.1 731.8 H204.8 Z" stroke="#1c1c1c" stroke-width="2.4" fill="#fff" />
<path d="M208.7 722 H214.5 L215.5 722.9" stroke="#1c1c1c" stroke-width="1.7" fill="none" />
<rect x="207.9" y="725.1" width="8.5" height="3.8" fill="#1c1c1c"/>
<rect x="477.2" y="762" width="14.5" height="6.6" stroke="#1c1c1c" stroke-width="2" fill="none"/>
<path d="M477.1 780.7 H471.1 V770.7 Q471.1 767.7 474.1 767.7 H497.8 V780.7 H491.7" stroke="#1c1c1c" stroke-width="2.4" fill="none" />
<path d="M477.1 774.1 H491.7 V785.4 Q491.7 788.7 488.4 788.7 H477.1 Z" stroke="#1c1c1c" stroke-width="2.4" fill="#fff" />
<path d="M481 778.9 H486.8 L487.8 779.8" stroke="#1c1c1c" stroke-width="1.7" fill="none" />
<rect x="480.2" y="782" width="8.5" height="3.8" fill="#1c1c1c"/>
<rect x="425.9" y="767.6" width="38.6" height="17.1" stroke="#1c1c1c" stroke-width="2.0" fill="none"/>
<path d="M327.1 752.7 V749.2 H338.1 Q341.4 749.2 341.4 752.5 V775.6 H327.1 V772.4" stroke="#1c1c1c" stroke-width="2.3" fill="none" />
<path d="M325 754.3 L318.8 760.3 Q317.6 762.7 318.8 765.1 L325 770.9 M330.8 754.3 L336.6 760.3 Q337.8 762.7 336.6 765.1 L330.8 770.9" stroke="#1c1c1c" stroke-width="2.5" fill="none" />
<line x1="322.2" y1="762.7" x2="333.8" y2="762.7" stroke="#1c1c1c" stroke-width="2.5"/>
<line x1="396.1" y1="687.5" x2="430" y2="687.5" stroke="#1c1c1c" stroke-width="2.6"/>
<path d="M398.7 687 V671 Q398.7 663 404.5 661.3 H422.7 L426.2 676.7 V687" stroke="#1c1c1c" stroke-width="2.5" fill="none" />
<path d="M405.6 661.5 L410.3 676.9 V687 M410.3 676.9 H426.2" stroke="#1c1c1c" stroke-width="2.5" fill="none" />
<path d="M408.8 667.6 H417.5 L419.6 676" stroke="#1c1c1c" stroke-width="2.3" fill="none" />
<rect x="413.2" y="680.1" width="5.5" height="2.7" fill="#1c1c1c"/>
<circle cx="534.6" cy="725.8" r="2.4" fill="#1c1c1c"/>
<path d="M527.1 732 H531.5 Q534.4 732 534.4 735 V751" stroke="#1c1c1c" stroke-width="2.4" fill="none" />
<line x1="527.1" y1="751.5" x2="541.9" y2="751.5" stroke="#1c1c1c" stroke-width="2.6"/>
<circle cx="544.5" cy="772.9" r="0.5" fill="#1c1c1c"/>
<path d="M688.5 741.3 H673.1 V727 Q673.1 724.3 675.8 724.3 H699.7 V742.4" stroke="#1c1c1c" stroke-width="2.4" fill="none" />
<line x1="676.3" y1="729.3" x2="693" y2="729.3" stroke="#1c1c1c" stroke-width="2.2"/>
<line x1="676.3" y1="734.4" x2="694" y2="734.4" stroke="#1c1c1c" stroke-width="2.4"/>
<circle cx="693.6" cy="741.1" r="2.3" fill="#1c1c1c"/>
<line x1="689.4" y1="746.1" x2="697.6" y2="746.1" stroke="#1c1c1c" stroke-width="1.9"/>
<circle cx="674" cy="750" r="2.2" fill="#1c1c1c"/>
<circle cx="679.6" cy="750" r="2.2" fill="#1c1c1c"/>
<circle cx="685.2" cy="750" r="2.2" fill="#1c1c1c"/>
<path d="M139.2 276.5 V292.65 A6.9 6.9 0 0 1 125.4 292.65 V277.8 A4.9 4.9 0 0 1 135.2 277.8 V291.95 A3.15 3.15 0 0 1 128.9 291.95 V280.8" stroke="#1c1c1c" stroke-width="2.2" fill="none" />
<path d="M139.2 337.6 V353.75 A6.9 6.9 0 0 1 125.4 353.75 V338.9 A4.9 4.9 0 0 1 135.2 338.9 V353.05 A3.15 3.15 0 0 1 128.9 353.05 V341.9" stroke="#1c1c1c" stroke-width="2.2" fill="none" />
<path d="M139.2 414.7 V430.85 A6.9 6.9 0 0 1 125.4 430.85 V416 A4.9 4.9 0 0 1 135.2 416 V430.15 A3.15 3.15 0 0 1 128.9 430.15 V419" stroke="#1c1c1c" stroke-width="2.2" fill="none" />
<path d="M139.2 490.4 V506.55 A6.9 6.9 0 0 1 125.4 506.55 V491.7 A4.9 4.9 0 0 1 135.2 491.7 V505.85 A3.15 3.15 0 0 1 128.9 505.85 V494.7" stroke="#1c1c1c" stroke-width="2.2" fill="none" />
<path d="M139.2 552.4 V568.55 A6.9 6.9 0 0 1 125.4 568.55 V553.7 A4.9 4.9 0 0 1 135.2 553.7 V567.85 A3.15 3.15 0 0 1 128.9 567.85 V556.7" stroke="#1c1c1c" stroke-width="2.2" fill="none" />
<path d="M139.2 606.2 V622.35 A6.9 6.9 0 0 1 125.4 622.35 V607.5 A4.9 4.9 0 0 1 135.2 607.5 V621.65 A3.15 3.15 0 0 1 128.9 621.65 V610.5" stroke="#1c1c1c" stroke-width="2.2" fill="none" />
<text x="281.91" y="340.4" font-size="18" textLength="121.18" lengthAdjust="spacingAndGlyphs" fill="#1c1c1c" stroke="#e7e7e7" stroke-width="0.3">P, M, D, C, Y, X</text>
<text x="301.35" y="399.1" font-size="17.5" textLength="26.44" lengthAdjust="spacingAndGlyphs" fill="#1c1c1c" stroke="#e7e7e7" stroke-width="0.3">AR</text>
<text x="301.34" y="416.7" font-size="17.5" textLength="37.12" lengthAdjust="spacingAndGlyphs" fill="#1c1c1c" stroke="#e7e7e7" stroke-width="0.3">N, R</text>
<text x="301.35" y="434.1" font-size="17.5" textLength="31.6" lengthAdjust="spacingAndGlyphs" fill="#1c1c1c" stroke="#e7e7e7" stroke-width="0.3">E-K</text>
<text x="301.38" y="451.1" font-size="17.5" textLength="94.08" lengthAdjust="spacingAndGlyphs" fill="#1c1c1c" stroke="#e7e7e7" stroke-width="0.3">AH, AK, AL</text>
<text x="763.84" y="423.7" font-size="17.5" textLength="15.78" lengthAdjust="spacingAndGlyphs" fill="#1c1c1c" stroke="#fff" stroke-width="0.3">Q</text>
<text x="764.47" y="513.7" font-size="17.5" textLength="9.99" lengthAdjust="spacingAndGlyphs" fill="#1c1c1c" stroke="#fff" stroke-width="0.3">L</text>
<text x="763.43" y="538.7" font-size="17.5" textLength="25.9" lengthAdjust="spacingAndGlyphs" fill="#1c1c1c" stroke="#fff" stroke-width="0.3">AP</text>
<text x="763.37" y="564.7" font-size="17.5" textLength="69.61" lengthAdjust="spacingAndGlyphs" fill="#1c1c1c" stroke="#fff" stroke-width="0.3">AN, AM</text>
<text x="428.88" y="781.1" font-size="12.5" textLength="30.22" lengthAdjust="spacingAndGlyphs" fill="#1c1c1c" stroke="#fff" stroke-width="0">CCA</text>
<text transform="translate(207.06,103.93) rotate(-90)" x="0" y="0" font-size="18" textLength="56.23" lengthAdjust="spacingAndGlyphs" fill="#1c1c1c" stroke="#fff" stroke-width="0.3">ZP-ZY</text>
<text transform="translate(233.3,104.85) rotate(-90)" x="0" y="0" font-size="18" textLength="60.69" lengthAdjust="spacingAndGlyphs" fill="#1c1c1c" stroke="#fff" stroke-width="0.3">ZN-ZP</text>
<text transform="translate(258.1,103.4) rotate(-90)" x="0" y="0" font-size="18" textLength="59.38" lengthAdjust="spacingAndGlyphs" fill="#1c1c1c" stroke="#fff" stroke-width="0.3">ZL-ZM</text>
<text transform="translate(284,103.35) rotate(-90)" x="0" y="0" font-size="18" textLength="46.23" lengthAdjust="spacingAndGlyphs" fill="#1c1c1c" stroke="#fff" stroke-width="0.3">ZI-ZL</text>
<text transform="translate(309,103.36) rotate(-90)" x="0" y="0" font-size="18" textLength="16.91" lengthAdjust="spacingAndGlyphs" fill="#1c1c1c" stroke="#fff" stroke-width="0.3">ZI</text>
<text transform="translate(446.1,104.29) rotate(-90)" x="0" y="0" font-size="18" textLength="26.18" lengthAdjust="spacingAndGlyphs" fill="#1c1c1c" stroke="#fff" stroke-width="0.3">ZH</text>
<text transform="translate(510.2,103.91) rotate(-90)" x="0" y="0" font-size="18" textLength="39.99" lengthAdjust="spacingAndGlyphs" fill="#1c1c1c" stroke="#fff" stroke-width="0.3">U-W</text>
<text transform="translate(663.2,104.22) rotate(-90)" x="0" y="0" font-size="18" textLength="23.43" lengthAdjust="spacingAndGlyphs" fill="#1c1c1c" stroke="#fff" stroke-width="0.3">ST</text>
<text transform="translate(727.1,104.26) rotate(-90)" x="0" y="0" font-size="18" textLength="59.54" lengthAdjust="spacingAndGlyphs" fill="#1c1c1c" stroke="#fff" stroke-width="0.3">SB-SN</text>
</svg></body></html>
